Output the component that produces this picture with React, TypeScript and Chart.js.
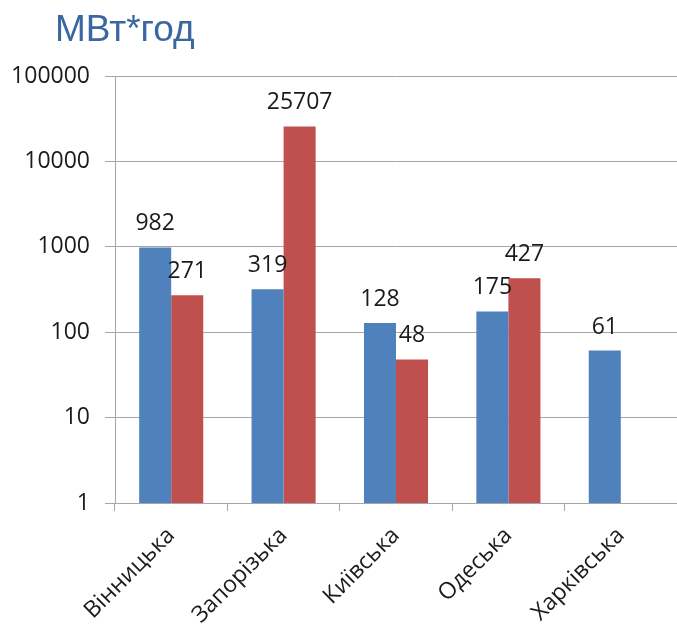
import React, { useEffect, useRef } from "react";
import { Chart, registerables } from "chart.js";

Chart.register(...registerables);

const titleText = "МВт*год";
const categories = ["Вінницька", "Запорізька", "Київська", "Одеська", "Харківська"];
const seriesBlue = [982, 319, 128, 175, 61];
const seriesRed: (number | null)[] = [271, 25707, 48, 427, null];
const yTickValues = [1, 10, 100, 1000, 10000, 100000];

const BLUE = "#4f81bd";
const RED = "#c0504d";
const GRID = "#a6a6a6";
const TEXT = "#1a1a1a";
const FONT = "'Open Sans', 'DejaVu Sans', sans-serif";

const labelsPlugin = {
  id: "customLabels",
  afterDatasetsDraw(chart: any) {
    const ctx = chart.ctx;
    ctx.save();
    ctx.fillStyle = TEXT;
    ctx.font = `23px ${FONT}`;
    ctx.textAlign = "center";
    ctx.textBaseline = "alphabetic";
    chart.data.datasets.forEach((ds: any, i: number) => {
      const meta = chart.getDatasetMeta(i);
      meta.data.forEach((bar: any, j: number) => {
        const v = ds.data[j];
        if (v === null || v === undefined) return;
        ctx.fillText(String(v), bar.x, bar.y - 17);
      });
    });
    ctx.restore();
  },
  beforeDraw(chart: any) {
    const ctx = chart.ctx;
    ctx.save();
    ctx.fillStyle = "#3b67a0";
    ctx.font = `37px 'Liberation Sans', Arial, sans-serif`;
    ctx.textAlign = "left";
    ctx.textBaseline = "alphabetic";
    ctx.fillText(titleText, 55, 41);
    ctx.restore();
  },
};

export default function App() {
  const ref = useRef<HTMLCanvasElement | null>(null);
  useEffect(() => {
    if (!ref.current) return;
    const chart = new Chart(ref.current, {
      type: "bar",
      data: {
        labels: categories,
        datasets: [
          { label: "A", data: seriesBlue, backgroundColor: BLUE, borderWidth: 0 },
          { label: "B", data: seriesRed as any, backgroundColor: RED, borderWidth: 0 },
        ],
      },
      options: {
        responsive: false,
        animation: false,
        layout: { padding: { top: 76, right: 0, left: 0, bottom: 0 } },
        datasets: { bar: { categoryPercentage: 0.57, barPercentage: 1 } },
        plugins: {
          legend: { display: false },
          title: { display: false },
          tooltip: { enabled: false },
        },
        scales: {
          x: {
            offset: true,
            grid: {
              offset: true,
              drawOnChartArea: false,
              drawTicks: true,
              tickLength: 8,
              color: GRID,
            },
            border: { display: true, color: GRID },
            ticks: {
              minRotation: 45,
              maxRotation: 45,
              autoSkip: false,
              color: TEXT,
              font: { family: FONT, size: 23 },
              padding: 11,
            },
            afterFit(scale: any) {
              scale.height = 121;
            },
          },
          y: {
            type: "logarithmic",
            min: 1,
            max: 100000,
            grid: { color: GRID, tickLength: 10, drawTicks: true },
            border: { display: true, color: GRID },
            ticks: {
              color: TEXT,
              font: { family: FONT, size: 23 },
              padding: 15,
              autoSkip: false,
              callback: (v: any) => String(v),
            },
            afterBuildTicks(scale: any) {
              scale.ticks = yTickValues.map((v) => ({ value: v }));
            },
            afterFit(scale: any) {
              scale.width = 115;
            },
          },
        },
      },
      plugins: [labelsPlugin],
    });
    return () => chart.destroy();
  }, []);
  return (
    <div style={{ position: "fixed", left: 0, top: 0, width: 677, height: 624, background: "#fff" }}>
      <canvas ref={ref} width={677} height={624} style={{ width: 677, height: 624, display: "block" }} />
    </div>
  );
}
